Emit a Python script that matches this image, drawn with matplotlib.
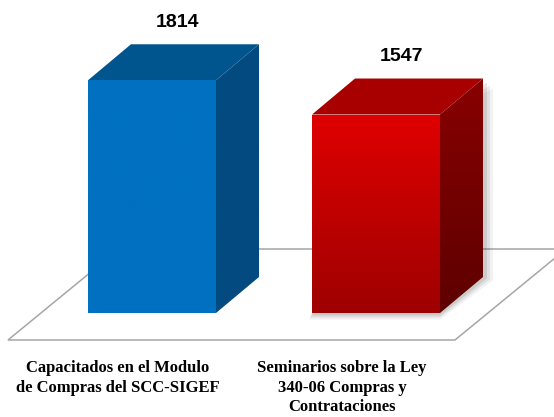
import matplotlib
matplotlib.use("Agg")
import matplotlib.pyplot as plt
import numpy as np
from matplotlib.patches import Polygon
from matplotlib.colors import LinearSegmentedColormap

# ---- data ----
categories = ["Capacitados en el Modulo\nde Compras del SCC-SIGEF",
              "Seminarios sobre la Ley\n340-06 Compras y\nContrataciones"]
values = [1814, 1547]

# ---- styles ----
front_colors = [("#0070C0", "#0070C0"), ("#E00000", "#9E0000")]  # (top, bottom)
side_colors = [("#034A80", "#034A80"), ("#880000", "#5E0000")]
top_colors = ["#01558F", "#A80000"]
shadow = [False, True]

W, H = 554, 417
K = 0.1283          # pixels per value unit
BASE_PX = 313       # pixel row of value 0 (bar front bottom)
UNIT = 224.0        # pixels per category step
C0_PX = 152.0       # pixel column of first category centre

def xu(px):  # pixel offset -> x data units
    return px / UNIT

def yu(px):  # pixel offset -> value units
    return px / K

fig = plt.figure(figsize=(W / 100, H / 100), dpi=100)
ax = fig.add_axes([0, 0, 1, 1])
ax.set_xlim(-C0_PX / UNIT, (W - C0_PX) / UNIT)
ax.set_ylim(-(H - BASE_PX) / K, BASE_PX / K)
ax.axis("off")

bar_w = xu(128)
ddx, ddy = xu(43), yu(36)

# ---- floor ----
fl_front_y = yu(BASE_PX - 340)
fl_back_y = yu(BASE_PX - 249)
fl_x0, fl_x1 = xu(8 - C0_PX), xu(455 - C0_PX)
fl_dx = xu(111)
floor = [(fl_x0, fl_front_y), (fl_x1, fl_front_y),
         (fl_x1 + fl_dx, fl_back_y), (fl_x0 + fl_dx, fl_back_y)]
ax.add_patch(Polygon(floor, closed=True, facecolor="white", edgecolor="#A6A6A6",
                     lw=1.1, zorder=1))

def grad_fill(poly, c_top, c_bot, z):
    patch = Polygon(poly, closed=True, facecolor="none", edgecolor="none", zorder=z)
    ax.add_patch(patch)
    xs = [p[0] for p in poly]; ys = [p[1] for p in poly]
    cmap = LinearSegmentedColormap.from_list("g", [c_bot, c_top])
    grad = np.linspace(0, 1, 256).reshape(-1, 1)
    im = ax.imshow(grad, cmap=cmap, aspect="auto", origin="lower",
                   extent=[min(xs), max(xs), min(ys), max(ys)], zorder=z,
                   interpolation="bilinear")
    im.set_clip_path(patch)

for i, v in enumerate(values):
    xl = i - bar_w / 2
    xr = i + bar_w / 2
    if shadow[i]:
        for s, a in [(10, 0.05), (7, 0.07), (4, 0.09)]:
            sx, sy = xu(s), yu(s)
            sh = [(xl - sx / 3, -sy / 1.5), (xr, -sy / 1.5), (xr + ddx + sx, ddy - sy / 3),
                  (xr + ddx + sx, v + ddy - sy), (xr, v)]
            ax.add_patch(Polygon(sh, closed=True, facecolor="black", edgecolor="none",
                                 alpha=a, zorder=2))
    front = [(xl, 0), (xr, 0), (xr, v), (xl, v)]
    side = [(xr, 0), (xr + ddx, ddy), (xr + ddx, v + ddy), (xr, v)]
    top = [(xl, v), (xr, v), (xr + ddx, v + ddy), (xl + ddx, v + ddy)]
    grad_fill(side, side_colors[i][0], side_colors[i][1], 3)
    ax.add_patch(Polygon(top, closed=True, facecolor=top_colors[i], edgecolor="none", zorder=3))
    grad_fill(front, front_colors[i][0], front_colors[i][1], 4)
    # value label
    ax.text(i + ddx / 2 + xu(4), v + ddy + yu(22), f"{v}", ha="center", va="center",
            fontsize=14, fontweight="bold", family="Liberation Sans", color="black", zorder=6)
    # category label
    ax.text(i - xu(34), yu(BASE_PX - 360), categories[i], ha="center", va="top",
            fontsize=12, fontweight="bold", family="Liberation Serif", color="black",
            linespacing=1.3, zorder=6)

fig.savefig("out.png", dpi=100)
